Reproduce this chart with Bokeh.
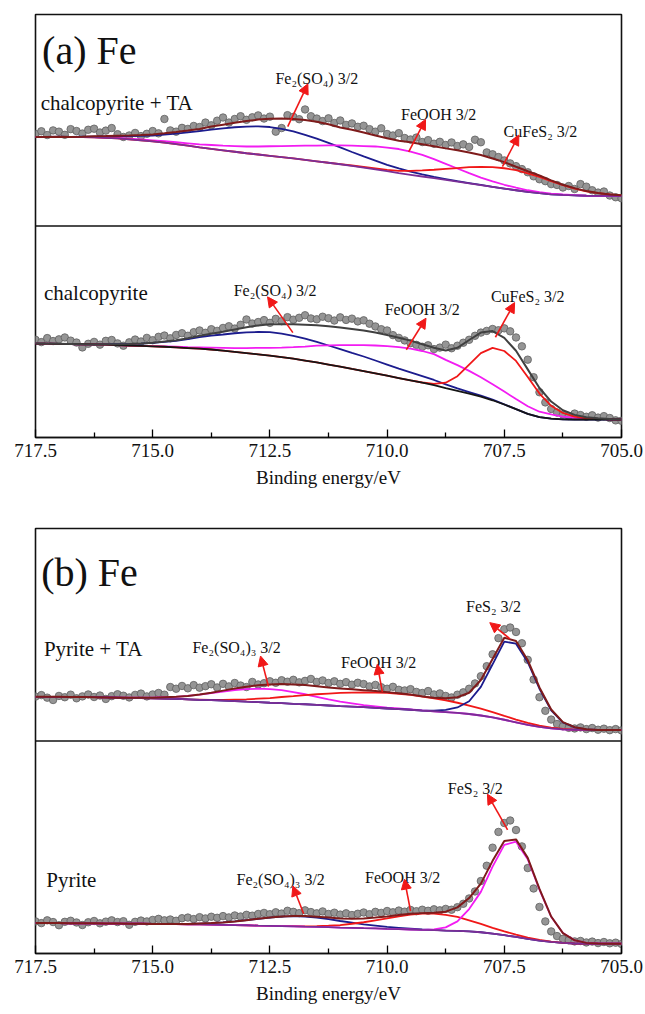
import numpy as np
from bokeh.plotting import figure
from bokeh.models import (Range1d, FixedTicker, PrintfTickFormatter, Span, Label,
                          Arrow, NormalHead)
from bokeh.layouts import column
from bokeh.embed import file_html
from bokeh.resources import INLINE

# Binding-energy sampling (eV, high to low): fitted curves and measured points
BE_FIT = np.linspace(717.5, 705.0, 51)
BE_DATA = np.linspace(717.5, 705.0, 101)

MAJOR_TICKS = [717.5, 715.0, 712.5, 710.0, 707.5, 705.0]
MINOR_TICKS = [716.25, 713.75, 711.25, 708.75, 706.25]

# ---------------- (a) chalcopyrite + TA ----------------
cpta_data = [43.5, 44.8, 43.0, 45.2, 44.6, 43.1, 45.8, 44.9, 43.7, 45.5, 46.0, 44.2, 45.1, 46.3,
             43.4, 42.1, 42.8, 44.0, 42.5, 43.6, 44.9, 43.8, 50.6,
             45.2, 44.6, 46.4, 45.9, 47.3, 46.8, 48.9, 47.6,
             49.8, 51.3, 48.9, 50.6, 51.9, 50.2, 51.4, 52.3, 50.8, 51.7,
             44.6, 46.3, 52.4,
             51.6, 50.5, 55.1, 51.9, 50.8,
             49.6, 50.9, 48.7, 49.9, 47.8, 48.5, 46.9, 47.4,
             45.8, 44.6, 46.2, 43.5, 42.8, 43.9, 41.6, 40.9,
             41.8, 39.7, 40.6, 38.9, 39.8, 38.3, 39.5, 37.8, 38.6, 37.4, 40.8, 39.6,
             34.8, 33.9, 32.6, 31.0, 29.6, 28.3, 26.9, 25.4,
             23.5, 22.1, 21.2, 19.8, 19.4, 18.2, 18.9, 17.5,
             19.8, 18.6, 16.9, 15.8, 16.3, 14.4, 13.6, 13.1]
cpta_bg = [42.1, 42.1, 42.1, 42.0, 42.0, 41.9, 41.7, 41.4, 41.0, 40.5, 40.0, 39.4, 38.7, 38.0,
           37.2, 36.5, 35.8, 35.1, 34.4, 33.8, 33.2, 32.6, 32.0, 31.3, 30.6, 29.9, 29.2, 28.4,
           27.6, 26.8, 25.9, 25.0, 24.2, 23.4, 22.6, 21.8, 21.0, 20.2, 19.3, 18.5, 17.7, 16.9,
           16.1, 15.5, 15.0, 14.7, 14.5, 14.3, 14.2, 14.2, 14.2]
cpta_fe2so4 = [42.1, 42.1, 42.2, 42.1, 42.2, 42.3, 42.4, 42.5, 42.5, 42.6, 42.8, 43.2, 43.7, 44.3,
               44.9, 45.6, 46.2, 46.7, 47.0, 47.1, 46.8, 45.9, 44.7, 43.1, 41.3, 39.3, 37.2, 35.0,
               32.9, 30.9, 28.9, 27.2, 25.7, 24.4, 23.2, 22.2, 21.2, 20.3, 19.4, 18.5, 17.7, 16.9,
               16.1, 15.5, 15.0, 14.7, 14.5, 14.3, 14.2, 14.2, 14.2]
cpta_feooh = [42.1, 42.1, 42.1, 42.0, 42.0, 42.0, 41.8, 41.6, 41.3, 40.9, 40.5, 40.1, 39.6, 39.1,
              38.6, 38.3, 38.0, 37.8, 37.6, 37.6, 37.7, 37.8, 37.9, 38.0, 38.0, 38.1, 38.1, 38.0,
              37.8, 37.6, 37.1, 36.4, 35.2, 33.6, 31.6, 29.4, 27.2, 25.0, 22.9, 21.1, 19.5, 18.1,
              16.9, 16.0, 15.3, 14.9, 14.6, 14.3, 14.2, 14.2, 14.2]
cpta_cufes2 = [42.1, 42.1, 42.1, 42.0, 42.0, 41.9, 41.7, 41.4, 41.0, 40.5, 40.0, 39.4, 38.7, 38.0,
               37.2, 36.5, 35.8, 35.1, 34.4, 33.8, 33.2, 32.6, 32.0, 31.3, 30.6, 29.9, 29.3, 28.6,
               27.9, 27.2, 26.5, 26.1, 26.1, 26.3, 26.6, 27.0, 27.4, 27.8, 27.9, 27.8, 27.3, 26.4,
               24.9, 23.2, 21.2, 19.3, 17.7, 16.4, 15.5, 14.9, 14.5]
cpta_fit = [42.1, 42.1, 42.2, 42.1, 42.2, 42.4, 42.5, 42.7, 42.8, 43.0, 43.3, 43.8, 44.4, 45.1,
            45.9, 47.0, 47.9, 48.8, 49.6, 50.3, 50.7, 50.8, 50.6, 50.1, 49.3, 48.1, 46.6, 45.5,
            44.2, 42.8, 41.5, 40.3, 39.6, 38.7, 37.7, 36.7, 35.8, 34.8, 33.6, 31.9, 30.2, 28.0,
            25.9, 23.9, 21.6, 19.5, 17.9, 16.5, 15.6, 14.9, 14.5]

# ---------------- (a) chalcopyrite ----------------
cp_data = [46.2, 45.1, 47.0, 45.6, 46.4, 47.3, 45.8, 44.9,
           42.6, 44.3, 45.2, 43.9, 45.7, 46.1, 44.5, 43.4,
           45.0, 46.3, 45.4, 47.1, 46.0, 47.6, 48.2, 46.9, 48.5,
           49.3, 48.1, 49.8, 50.6, 49.5, 51.2, 50.4, 51.8,
           52.6, 51.5, 53.3, 55.8, 53.9, 54.6, 55.5, 54.2,
           56.1, 55.0, 56.9, 55.7, 56.6, 57.8, 56.3, 55.9, 57.1, 56.4, 55.3, 56.8, 55.6, 56.2, 54.9, 55.4,
           53.8, 52.5, 51.2, 50.6, 48.4, 47.1, 45.9, 44.6,
           43.8, 42.9, 43.6, 41.8, 42.5, 43.9, 42.2, 43.4, 44.8, 46.2,
           48.1, 49.6, 50.4, 51.3, 50.7, 51.6, 50.2, 47.3,
           43.1, 36.8, 28.5, 21.4, 16.6, 13.5, 11.8, 10.9,
           10.2, 11.3, 10.6, 9.8, 10.5, 9.4, 10.1, 9.2, 8.1, 7.9]
cp_bg = [44.4, 44.4, 44.3, 44.2, 44.1, 44.0, 43.9, 43.7, 43.5, 43.3, 43.1, 42.9, 42.6, 42.3,
         42.0, 41.6, 41.1, 40.5, 39.9, 39.3, 38.7, 38.0, 37.3, 36.4, 35.5, 34.5, 33.5, 32.4,
         31.4, 30.3, 29.2, 28.1, 27.0, 25.9, 24.8, 23.3, 22.0, 20.7, 19.3, 17.6, 15.6, 13.4,
         11.2, 9.6, 8.9, 8.6, 8.5, 8.5, 8.5, 8.5, 8.5]
cp_fe2so4 = [44.4, 44.4, 44.3, 44.2, 44.1, 44.0, 44.1, 44.1, 44.2, 44.4, 44.7, 45.2, 45.7, 46.5,
             47.5, 48.2, 48.7, 49.3, 49.7, 49.9, 49.8, 49.1, 48.1, 46.7, 45.2, 43.5, 41.8, 40.0,
             38.3, 36.4, 34.5, 32.6, 30.8, 29.0, 27.2, 25.1, 23.2, 21.5, 19.8, 17.9, 15.7, 13.4,
             11.2, 9.6, 8.9, 8.6, 8.5, 8.5, 8.5, 8.5, 8.5]
cp_feooh = [44.4, 44.4, 44.3, 44.2, 44.1, 44.0, 43.9, 43.7, 43.5, 43.3, 43.2, 43.1, 42.9, 42.7,
            42.6, 42.5, 42.4, 42.3, 42.3, 42.4, 42.4, 42.5, 42.7, 43.0, 43.4, 43.6, 43.7, 43.7,
            43.7, 43.5, 43.2, 42.7, 42.0, 40.9, 39.4, 36.7, 34.2, 31.5, 28.5, 25.2, 21.7, 18.2,
            14.8, 12.2, 10.9, 9.9, 9.3, 9.0, 8.8, 8.6, 8.5]
cp_cufes2 = [44.4, 44.4, 44.3, 44.2, 44.1, 44.0, 43.9, 43.7, 43.5, 43.3, 43.1, 42.9, 42.6, 42.3,
             42.0, 41.6, 41.1, 40.5, 39.9, 39.3, 38.7, 38.0, 37.3, 36.4, 35.5, 34.5, 33.5, 32.4,
             31.4, 30.3, 29.2, 28.1, 27.0, 26.0, 25.4, 25.9, 29.0, 34.5, 39.9, 42.4, 40.9, 36.2,
             28.6, 20.8, 15.0, 11.6, 9.9, 9.1, 8.8, 8.6, 8.5]
cp_fit = [44.4, 44.4, 44.3, 44.2, 44.1, 44.0, 44.1, 44.1, 44.2, 44.4, 44.8, 45.4, 46.0, 46.9,
          48.1, 49.1, 50.0, 51.1, 52.1, 53.0, 53.5, 53.6, 53.5, 53.3, 53.1, 52.6, 52.0, 51.3,
          50.6, 49.6, 48.5, 47.2, 45.8, 44.1, 42.4, 41.1, 42.4, 46.1, 49.6, 50.3, 47.1, 41.0,
          32.2, 23.4, 17.0, 12.9, 10.7, 9.6, 9.1, 8.7, 8.5]

# ---------------- (b) pyrite + TA ----------------
pyta_data = [20.9, 21.6, 20.4, 19.3, 21.2, 20.6, 21.8, 20.1,
             21.0, 21.9, 20.7, 21.4, 19.8, 21.1, 22.0, 21.3,
             20.5, 21.7, 22.3, 21.0, 21.9, 22.6, 21.8,
             25.4, 24.6, 25.9, 24.8, 26.3, 25.1, 25.8, 26.7, 25.2,
             26.9, 25.7, 27.3, 26.1, 25.4, 27.8, 26.6, 27.2, 28.1,
             27.4, 28.6, 27.9, 28.8, 27.6, 28.3, 29.2, 27.8,
             28.5, 27.3, 28.1, 26.9, 27.7, 26.5, 27.4, 26.8,
             25.7, 26.4, 25.3, 24.6, 25.5, 24.1, 23.8, 24.4,
             23.1, 22.6, 23.5, 21.9, 22.4, 21.2, 20.5,
             21.8, 22.9, 24.6, 27.1, 30.5,
             35.2, 40.8, 48.4, 52.6, 53.4, 51.3, 46.0, 38.2, 28.9,
             20.6, 14.2, 10.1, 8.0, 6.9, 6.2, 5.9,
             6.4, 5.6, 6.1, 5.3, 5.8, 5.1, 5.6, 5.0]
pyta_bg = [20.8, 20.8, 20.8, 20.7, 20.7, 20.6, 20.5, 20.4, 20.3, 20.2, 20.1, 20.0, 19.8, 19.6,
           19.4, 19.2, 19.0, 18.8, 18.5, 18.3, 18.0, 17.8, 17.5, 17.3, 17.0, 16.7, 16.4, 16.2,
           15.9, 15.6, 15.3, 15.0, 14.7, 14.3, 14.0, 13.6, 13.2, 12.7, 12.0, 11.1, 10.0, 8.8,
           7.6, 6.6, 5.9, 5.5, 5.3, 5.2, 5.2, 5.2, 5.2]
pyta_fe2so43 = [20.8, 20.8, 20.8, 20.7, 20.7, 20.6, 20.5, 20.4, 20.4, 20.4, 20.4, 20.6, 20.8, 21.2,
                21.8, 22.5, 23.3, 24.0, 24.4, 24.6, 24.4, 23.9, 23.0, 22.0, 20.8, 19.6, 18.5, 17.7,
                16.9, 16.3, 15.7, 15.3, 14.9, 14.4, 14.0, 13.6, 13.2, 12.7, 12.0, 11.1, 10.0, 8.8,
                7.6, 6.6, 5.9, 5.5, 5.3, 5.2, 5.2, 5.2, 5.2]
pyta_feooh = [20.8, 20.8, 20.8, 20.7, 20.7, 20.6, 20.5, 20.4, 20.3, 20.2, 20.1, 20.0, 19.8, 19.6,
              19.5, 19.4, 19.4, 19.5, 19.6, 19.9, 20.2, 20.7, 21.1, 21.6, 22.0, 22.3, 22.6, 22.8,
              22.9, 22.8, 22.6, 22.2, 21.7, 20.9, 20.1, 19.1, 18.0, 16.7, 15.2, 13.6, 11.8, 10.1,
              8.5, 7.2, 6.3, 5.7, 5.4, 5.2, 5.2, 5.2, 5.2]
pyta_fes2 = [20.8, 20.8, 20.8, 20.7, 20.7, 20.6, 20.5, 20.4, 20.3, 20.2, 20.1, 20.0, 19.8, 19.6,
             19.4, 19.2, 19.0, 18.8, 18.5, 18.3, 18.0, 17.8, 17.5, 17.3, 17.0, 16.7, 16.4, 16.2,
             15.9, 15.6, 15.3, 15.0, 14.7, 14.3, 14.3, 14.6, 15.8, 18.7, 25.5, 36.1, 46.8, 45.8,
             37.1, 24.6, 14.4, 8.7, 6.4, 5.5, 5.2, 5.2, 5.2]
pyta_fit = [20.8, 20.8, 20.8, 20.7, 20.7, 20.6, 20.5, 20.4, 20.4, 20.4, 20.4, 20.6, 20.8, 21.2,
            21.9, 22.7, 23.7, 24.7, 25.5, 26.2, 26.6, 26.8, 26.6, 26.3, 25.8, 25.2, 24.7, 24.3,
            23.9, 23.5, 23.0, 22.5, 21.9, 21.0, 20.4, 20.1, 20.6, 22.7, 28.7, 38.6, 48.6, 47.1,
            38.0, 25.2, 14.8, 8.9, 6.5, 5.5, 5.2, 5.2, 5.2]

# ---------------- (b) pyrite ----------------
py_data = [15.1, 14.3, 15.6, 14.8, 13.3, 14.9, 15.4, 14.6,
           13.4, 14.7, 15.3, 14.2, 15.0, 15.6, 14.8, 15.2,
           13.5, 14.9, 15.5, 15.1, 15.8, 16.3, 15.6,
           16.0, 15.4, 16.6, 16.9, 16.2, 17.1, 16.5, 17.3, 16.8,
           17.6, 17.0, 17.9, 17.4, 18.2, 17.8, 18.6, 19.1, 18.5,
           19.4, 18.8, 20.1, 19.6, 19.0, 20.3, 19.5, 18.9,
           19.8, 18.6, 19.2, 18.3, 18.9, 18.1, 18.7, 19.3,
           18.5, 19.6, 19.1, 20.0, 19.4, 20.2, 19.7, 20.5,
           19.9, 20.6, 20.1, 20.8, 20.3, 21.0, 20.6,
           21.8, 23.4, 25.9, 29.2, 34.1,
           41.3, 49.8, 57.2, 61.4, 62.6, 58.1, 50.4, 40.2, 30.6,
           21.9, 15.1, 10.4, 8.2, 6.9, 6.3, 5.7,
           5.9, 5.2, 5.6, 4.9, 5.4, 4.8, 5.1, 4.5]
py_bg = [14.3, 14.3, 14.3, 14.2, 14.2, 14.2, 14.1, 14.1, 14.0, 14.0, 13.9, 13.9, 13.8, 13.7,
         13.7, 13.6, 13.5, 13.4, 13.3, 13.1, 13.0, 12.9, 12.8, 12.6, 12.5, 12.4, 12.2, 12.1,
         11.9, 11.8, 11.6, 11.5, 11.3, 11.1, 11.0, 10.8, 10.6, 10.4, 10.0, 9.4, 8.6, 7.8,
         6.9, 6.1, 5.5, 5.0, 4.7, 4.6, 4.6, 4.6, 4.6]
py_fe2so43 = [14.3, 14.3, 14.3, 14.2, 14.2, 14.2, 14.1, 14.1, 14.0, 14.0, 13.9, 13.9, 13.9, 13.9,
              14.1, 14.3, 14.6, 15.1, 15.7, 16.3, 16.9, 17.4, 17.6, 17.4, 16.9, 16.2, 15.3, 14.5,
              13.7, 13.1, 12.5, 12.1, 11.7, 11.3, 11.1, 10.8, 10.6, 10.4, 10.0, 9.4, 8.6, 7.8,
              6.9, 6.1, 5.5, 5.0, 4.7, 4.6, 4.6, 4.6, 4.6]
py_feooh = [14.3, 14.3, 14.3, 14.2, 14.2, 14.2, 14.1, 14.1, 14.0, 14.0, 13.9, 13.9, 13.8, 13.7,
            13.7, 13.6, 13.5, 13.4, 13.3, 13.1, 13.0, 12.9, 12.9, 12.8, 12.9, 13.1, 13.4, 14.0,
            14.7, 15.6, 16.5, 17.5, 18.3, 18.8, 18.8, 18.2, 17.2, 15.6, 13.9, 12.1, 10.4, 8.9,
            7.5, 6.4, 5.6, 5.0, 4.7, 4.6, 4.6, 4.6, 4.6]
py_fes2 = [14.3, 14.3, 14.3, 14.2, 14.2, 14.2, 14.1, 14.1, 14.0, 14.0, 13.9, 13.9, 13.8, 13.7,
           13.7, 13.6, 13.5, 13.4, 13.3, 13.1, 13.0, 12.9, 12.8, 12.6, 12.5, 12.4, 12.2, 12.1,
           11.9, 11.8, 11.6, 11.5, 11.3, 11.1, 11.3, 12.3, 15.1, 20.9, 29.0, 40.9, 51.1, 52.6,
           44.4, 30.1, 17.3, 9.6, 6.2, 5.0, 4.7, 4.6, 4.6]
py_fit = [14.3, 14.3, 14.3, 14.2, 14.2, 14.2, 14.1, 14.1, 14.0, 14.0, 13.9, 13.9, 13.9, 13.9,
          14.1, 14.3, 14.6, 15.1, 15.7, 16.3, 16.9, 17.4, 17.7, 17.6, 17.3, 16.9, 16.5, 16.4,
          16.5, 16.9, 17.4, 18.1, 18.7, 19.0, 19.2, 19.7, 21.7, 26.1, 32.9, 43.6, 52.9, 53.7,
          45.0, 30.4, 17.4, 9.6, 6.2, 5.0, 4.7, 4.6, 4.6]

# ---------------- styling ----------------
FONT = "Liberation Serif"
NAVY = "#1c1c8e"
MAGENTA = "#f21cf2"
RED = "#f01818"
PURPLE = "#7a2e96"
MAROON = "#7e1b1b"
TOP = 100.0          # vertical offset of the upper spectrum in each panel


def make_panel(height, left, right, top, bottom):
    p = figure(width=645, height=height, x_range=Range1d(717.5, 705.0),
               y_range=Range1d(0, 200), output_backend="svg", toolbar_location=None,
               min_border_left=left, min_border_right=right,
               min_border_top=top, min_border_bottom=bottom)
    p.grid.visible = False
    p.yaxis.visible = False
    p.background_fill_color = "white"
    p.border_fill_color = "white"
    p.outline_line_color = "#111111"
    p.outline_line_width = 1.6
    ax = p.xaxis[0]
    ax.ticker = FixedTicker(ticks=MAJOR_TICKS, minor_ticks=MINOR_TICKS)
    ax.formatter = PrintfTickFormatter(format="%.1f")
    ax.axis_line_color = "#111111"
    ax.axis_line_width = 1.6
    ax.major_tick_in = 8
    ax.major_tick_out = 0
    ax.minor_tick_in = 5
    ax.minor_tick_out = 0
    ax.major_tick_line_width = 1.3
    ax.minor_tick_line_width = 1.3
    ax.major_label_text_font = FONT
    ax.major_label_text_font_size = "19px"
    ax.major_label_text_color = "#111111"
    ax.major_label_standoff = 6
    ax.axis_label = "Binding energy/eV"
    ax.axis_label_text_font = FONT
    ax.axis_label_text_font_style = "normal"
    ax.axis_label_text_font_size = "19px"
    ax.axis_label_text_color = "#111111"
    ax.axis_label_standoff = 7
    p.add_layout(Span(location=TOP, dimension="width", line_color="#111111", line_width=1.6))
    return p


def draw_spectrum(p, offset, data, bg, comps, fit, bg_color, fit_color):
    p.scatter(BE_DATA, np.asarray(data) + offset, size=7.5, fill_color="#959595",
              line_color="#5f5f5f", line_width=0.8)
    for vals, color in comps:
        p.line(BE_FIT, np.asarray(vals) + offset, line_color=color, line_width=1.8)
    p.line(BE_FIT, np.asarray(bg) + offset, line_color=bg_color, line_width=1.8)
    p.line(BE_FIT, np.asarray(fit) + offset, line_color=fit_color, line_width=2.0)


def add_text(p, text, x, y, size, align="left"):
    p.add_layout(Label(x=x, y=y, text=text, text_font=FONT, text_font_size=size,
                       text_align=align, text_baseline="alphabetic", text_color="#111111"))


def add_note(p, text, pos, tail, head):
    add_text(p, text, pos[0], pos[1], "16px", align="center")
    p.add_layout(Arrow(end=NormalHead(size=10, fill_color=RED, line_color=RED, line_width=1),
                       x_start=tail[0], y_start=tail[1], x_end=head[0], y_end=head[1],
                       line_color=RED, line_width=1.6))


# ---------------- panel (a) ----------------
pa = make_panel(500, 35, 24, 14, 63)
draw_spectrum(pa, TOP, cpta_data, cpta_bg,
              [(cpta_fe2so4, NAVY), (cpta_feooh, MAGENTA), (cpta_cufes2, RED)],
              cpta_fit, PURPLE, MAROON)
draw_spectrum(pa, 0.0, cp_data, cp_bg,
              [(cp_fe2so4, NAVY), (cp_feooh, MAGENTA), (cp_cufes2, RED)],
              cp_fit, "#151515", "#404040")
add_text(pa, "(a) Fe", 717.36, 183.0, "40px")
add_text(pa, "chalcopyrite + TA", 717.39, 158.1, "21px")
add_text(pa, "chalcopyrite", 717.32, 68.2, "21px")
add_note(pa, "Fe\u2082(SO\u2084) 3/2", (711.50, 169.6), (712.12, 147.0), (711.69, 167.2))
add_note(pa, "FeOOH 3/2", (708.90, 152.6), (709.54, 135.0), (709.18, 150.4))
add_note(pa, "CuFeS\u2082 3/2", (706.73, 144.7), (707.54, 128.1), (707.19, 143.0))
add_note(pa, "Fe\u2082(SO\u2084) 3/2", (712.39, 69.5), (712.01, 49.6), (712.55, 66.5))
add_note(pa, "FeOOH 3/2", (709.25, 60.5), (709.59, 41.5), (709.17, 56.4))
add_note(pa, "CuFeS\u2082 3/2", (707.00, 66.8), (707.69, 47.4), (707.28, 63.8))

# ---------------- panel (b) ----------------
pb = make_panel(514, 29, 19, 28, 61)
draw_spectrum(pb, TOP, pyta_data, pyta_bg,
              [(pyta_fe2so43, MAGENTA), (pyta_feooh, RED), (pyta_fes2, NAVY)],
              pyta_fit, PURPLE, MAROON)
draw_spectrum(pb, 0.0, py_data, py_bg,
              [(py_fe2so43, NAVY), (py_feooh, RED), (py_fes2, MAGENTA)],
              py_fit, PURPLE, MAROON)
add_text(pb, "(b) Fe", 717.38, 179.4, "40px")
add_text(pb, "Pyrite + TA", 717.32, 143.4, "21px")
add_text(pb, "Pyrite", 717.27, 34.7, "21px")
add_note(pb, "Fe\u2082(SO\u2084)\u2083 3/2", (713.21, 144.1), (712.53, 125.6), (712.70, 140.0))
add_note(pb, "FeOOH 3/2", (710.18, 137.1), (710.10, 123.0), (710.21, 136.1))
add_note(pb, "FeS\u2082 3/2", (707.73, 163.3), (707.38, 148.1), (707.81, 155.7))
add_note(pb, "Fe\u2082(SO\u2084)\u2083 3/2", (712.27, 34.8), (711.78, 18.7), (712.01, 31.8))
add_note(pb, "FeOOH 3/2", (709.67, 35.9), (709.50, 19.9), (709.63, 35.0))
add_note(pb, "FeS\u2082 3/2", (708.12, 77.5), (707.43, 58.2), (707.86, 75.0))

layout = column(pa, pb, spacing=0)
open("out.html", "w").write(file_html(layout, INLINE))
